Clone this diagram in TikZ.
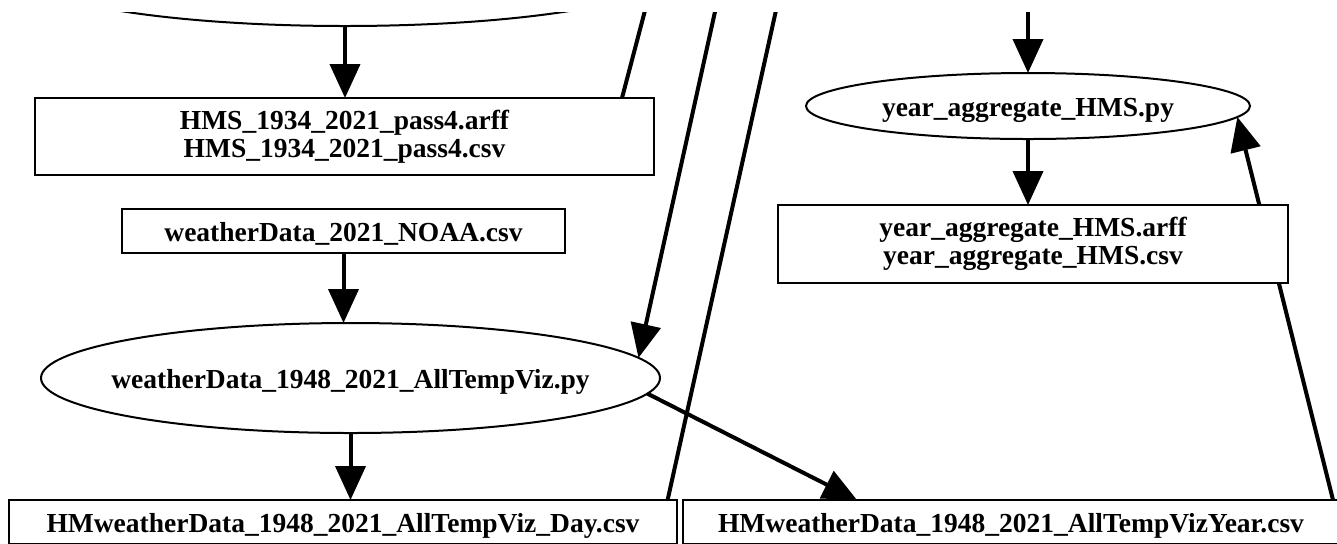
\documentclass[tikz,border=0pt]{standalone}
\usepackage{fontspec}
\setmainfont{Liberation Serif}
\usetikzlibrary{arrows.meta,calc,shapes.geometric}
\pgfdeclarelayer{edges}
\pgfsetlayers{edges,main}
% text of zero width, so that an ellipse keeps the size it is given
\newcommand\zw[1]{\makebox[0pt]{#1}}

\begin{document}
\begin{tikzpicture}[x=0.5pt,y=-0.5pt,
  every node/.style={font=\fontsize{13.75}{14}\selectfont\bfseries,
    inner sep=0pt, outer sep=0pt, line width=1pt, draw, fill=white},
  box/.style={rectangle},
  oval/.style={ellipse},
  oneline/.style={text height=10pt, text depth=0pt},
  flow/.style={line width=2pt, line cap=butt,
    -{Triangle[length=17pt,width=15pt]}},
  plain/.style={line width=2pt, line cap=butt},
]
\useasboundingbox (0,0) rectangle (1337,543);
\clip (0,12) rectangle (1337,543);

% nodes
\node[oval, minimum width=327pt, minimum height=55pt] (topell) at (345,-29) {};
\node[box, align=center, minimum width=309.5pt, minimum height=38.5pt] (hms) at (344.5,136.5)
  {HMS\_1934\_2021\_pass4.arff\\HMS\_1934\_2021\_pass4.csv};
\node[box, oneline, minimum width=221.5pt, minimum height=22pt] (noaa) at (343.5,231)
  {weatherData\_2021\_NOAA.csv};
\node[oval, oneline, minimum width=309.5pt, minimum height=55pt] (bigell) at (350.5,378)
  {\zw{weatherData\_1948\_2021\_AllTempViz.py}};
\node[box, oneline, minimum width=334pt, minimum height=22pt] (day) at (343,522)
  {HMweatherData\_1948\_2021\_AllTempViz\_Day.csv};
\node[box, oneline, minimum width=328pt, minimum height=22pt] (ycsv) at (1011,522)
  {HMweatherData\_1948\_2021\_AllTempVizYear.csv};
\node[oval, oneline, minimum width=222pt, minimum height=33pt] (yell) at (1028,106)
  {\zw{year\_aggregate\_HMS.py}};
\node[box, align=center, minimum width=255pt, minimum height=39pt] (yagg) at (1033,244)
  {year\_aggregate\_HMS.arff\\year\_aggregate\_HMS.csv};

% far ends of edges leading out of the drawing
\coordinate (upA) at (653,-20);
\coordinate (upB) at (722,-20);
\coordinate (upC) at (782.7,-20);
\coordinate (upD) at (1028,-20);

% edges, drawn beneath the nodes
\begin{pgfonlayer}{edges}
\clip (0,12) rectangle (1337,543);
\draw[flow] (topell.south) -- (topell.south |- hms.north);
\draw[plain] ($(hms.north west)+(587,0)$) -- (upA);
\draw[flow] (upB) -- (bigell.4.65);
\draw[plain] ($(day.north east)+(-9.4,0)$) -- (upC);
\draw[flow] (noaa.south) -- (noaa.south |- bigell.north);
\draw[flow] (bigell.south) -- (bigell.south |- day.north);
\draw[flow] (bigell.-3.95) -- ($(ycsv.north west)+(174,0)$);
\draw[flow] ($(ycsv.north east)+(-6,0)$) -- (yell.-3.9);
\draw[flow] (upD) -- (yell.north);
\draw[flow] (yell.south) -- (yell.south |- yagg.north);
\end{pgfonlayer}
\end{tikzpicture}
\end{document}
